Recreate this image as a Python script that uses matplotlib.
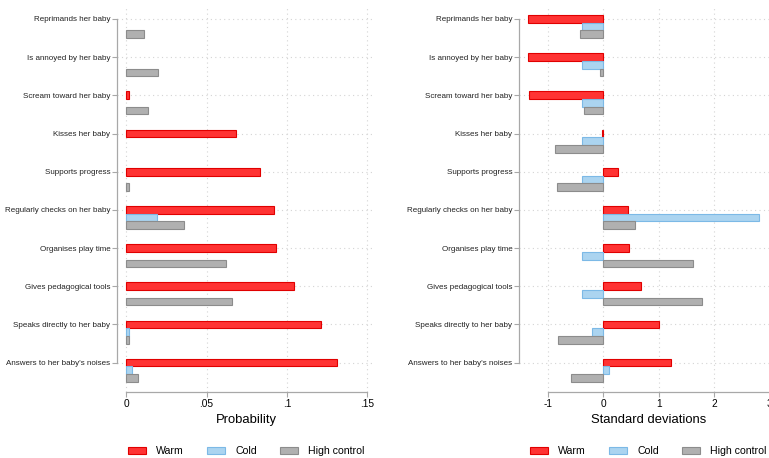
import matplotlib
matplotlib.use("Agg")
import matplotlib.pyplot as plt
from matplotlib.patches import Patch
import numpy as np

behaviours = [
    "Reprimands her baby",
    "Is annoyed by her baby",
    "Scream toward her baby",
    "Kisses her baby",
    "Supports progress",
    "Regularly checks on her baby",
    "Organises play time",
    "Gives pedagogical tools",
    "Speaks directly to her baby",
    "Answers to her baby's noises",
]
styles = ["Warm", "Cold", "High control"]

# probability of each behaviour, by parenting style
prob_warm = [0.0, 0.0, 0.0014, 0.0684, 0.0833, 0.0919, 0.0932, 0.1043, 0.1211, 0.131]
prob_cold = [0.0, 0.0, 0.0, 0.0, 0.0, 0.0194, 0.0, 0.0, 0.0014, 0.0033]
prob_control = [0.0112, 0.020, 0.0132, 0.0, 0.0014, 0.0362, 0.0622, 0.0659, 0.0014, 0.007]

# same, in standard deviations
sd_warm = [-1.355, -1.355, -1.337, -0.024, 0.265, 0.44, 0.464, 0.675, 1.012, 1.217]
sd_cold = [-0.38, -0.38, -0.38, -0.38, -0.38, 2.81, -0.38, -0.38, -0.21, 0.108]
sd_control = [-0.43, -0.066, -0.343, -0.867, -0.831, 0.572, 1.62, 1.783, -0.83, -0.584]

prob_ticks = [0, 0.05, 0.1, 0.15]
prob_ticklabels = ["0", ".05", ".1", ".15"]
sd_ticks = [-1, 0, 1, 2, 3]
sd_ticklabels = ["-1", "0", "1", "2", "3"]

FACES = ["#ff3333", "#abd4f0", "#b0b0b0"]
EDGES = ["#e00000", "#7cb9e6", "#8c8c8c"]
AXIS_GREY = "#a8a8a8"
GRID_GREY = "#d4d4d4"

plt.rcParams["font.family"] = ["Liberation Sans", "DejaVu Sans"]

W, H = 769, 458
fig = plt.figure(figsize=(W / 100, H / 100), dpi=100)


def panel(left_px, series, ticks, ticklabels, xlim, xlabel):
    # axes box in pixels: top 6.7, bottom 391.7, width 258
    ax = fig.add_axes([left_px / W, (H - 391.7) / H, 258 / W, 385 / H])
    n = len(behaviours)
    y = np.arange(n)
    h = 0.2
    for k, vals in enumerate(series):
        vals = np.asarray(vals)
        lw = np.where(vals == 0, 0.0, 0.8)
        ax.barh(y + k * h, vals, height=h, color=FACES[k], edgecolor=EDGES[k],
                linewidth=lw, zorder=3)

    ax.set_ylim(9.76, -0.32)
    ax.set_xlim(*xlim)

    ax.set_yticks(y)
    ax.set_yticklabels(behaviours, fontsize=5.8, color="#222222")
    ax.set_xticks(ticks)
    ax.set_xticklabels(ticklabels, fontsize=7.3)
    ax.tick_params(axis="y", length=3.5, width=0.8, pad=1.5, color=AXIS_GREY)
    ax.tick_params(axis="x", length=3.5, width=0.8, pad=2, color=AXIS_GREY)

    # dotted grid both ways, behind the bars
    ax.grid(True, color=GRID_GREY, linestyle=(0, (1, 3)), linewidth=0.8, zorder=0)
    ax.set_axisbelow(True)

    for s in ["top", "right"]:
        ax.spines[s].set_visible(False)
    for s in ["left", "bottom"]:
        ax.spines[s].set_color(AXIS_GREY)
        ax.spines[s].set_linewidth(0.9)
    ax.spines["left"].set_bounds(0, n - 1)
    ax.spines["bottom"].set_bounds(ticks[0], ticks[-1])

    ax.set_xlabel(xlabel, fontsize=9.4, labelpad=3)

    handles = [Patch(facecolor=FACES[k], edgecolor=EDGES[k], linewidth=0.8)
               for k in range(3)]
    centre = (left_px + 129) / W
    ax.legend(handles, styles, loc="center", bbox_to_anchor=(centre, 7 / H),
              bbox_transform=fig.transFigure, ncol=3, frameon=False,
              fontsize=7.6, handlelength=1.7, handleheight=0.7,
              handletextpad=0.95, columnspacing=2.2, borderaxespad=0)
    return ax


panel(117.3, [prob_warm, prob_cold, prob_control], prob_ticks, prob_ticklabels,
      (-0.0056, 0.155), "Probability")
panel(519.3, [sd_warm, sd_cold, sd_control], sd_ticks, sd_ticklabels,
      (-1.52, 3.14), "Standard deviations")

fig.savefig("out.png", dpi=100)
